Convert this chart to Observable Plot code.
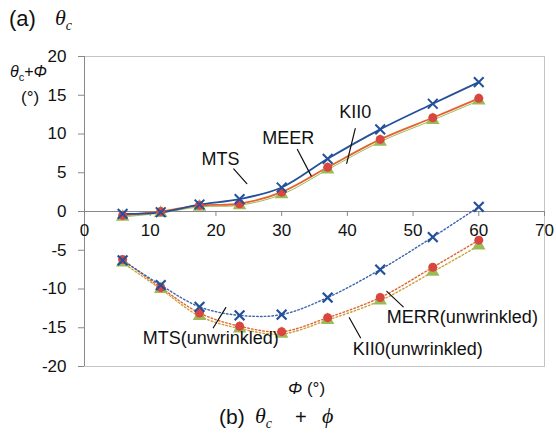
<!DOCTYPE html>
<html><head><meta charset="utf-8">
<script src="https://cdn.jsdelivr.net/npm/d3@7"></script>
<script src="https://cdn.jsdelivr.net/npm/@observablehq/plot@0.6"></script>
<style>
body{margin:0;background:#fff;font-family:"Liberation Sans",Arial,sans-serif;}
#wrap{position:relative;width:556px;height:437px;overflow:hidden;}
.t{position:absolute;white-space:nowrap;color:#111;}
.serif{font-family:"Liberation Serif","Times New Roman",serif;font-style:italic;}
</style></head>
<body><div id="wrap">
<div id="chart"></div>
<div class="t" style="left:9px;top:6px;font-size:22px;">(a)</div>
<div class="t serif" style="left:55px;top:5px;font-size:22px;">θ<sub style="font-size:14px;">c</sub></div>
<div class="t" style="left:10px;top:63px;font-size:16px;"><i>θ</i><sub style="font-size:11px;">c</sub>+<i>Φ</i></div>
<div class="t" style="left:21px;top:88px;font-size:17px;">(°)</div>
<div class="t" style="left:288px;top:379px;font-size:17px;"><i>Φ</i> (°)</div>
<div class="t" style="left:219px;top:405px;font-size:21px;">(b)</div>
<div class="t serif" style="left:255px;top:403px;font-size:22px;">θ<sub style="font-size:14px;">c</sub></div>
<div class="t" style="left:295px;top:406px;font-size:20px;">+</div>
<div class="t serif" style="left:322px;top:403px;font-size:22px;">ϕ</div>
</div>
<script>
const phi = [5.8, 11.6, 17.5, 23.6, 30, 37, 45, 53, 60];
const mts = [-0.3, -0.1, 0.9, 1.6, 3.1, 6.8, 10.6, 13.9, 16.7];
const meer = [-0.5, 0.0, 0.8, 1.0, 2.5, 5.7, 9.3, 12.1, 14.6];
const kii0 = [-0.7, -0.2, 0.6, 0.8, 2.2, 5.4, 9.0, 11.8, 14.3];
const mtsU = [-6.3, -9.5, -12.3, -13.4, -13.3, -11.1, -7.5, -3.3, 0.6];
const merrU = [-6.2, -9.8, -13.1, -14.8, -15.5, -13.7, -11.1, -7.2, -3.7];
const kii0U = [-6.6, -10.0, -13.5, -15.1, -15.8, -14.0, -11.5, -7.8, -4.4];
const xTicks = [0, 10, 20, 30, 40, 50, 60, 70];
const yTicks = [-20, -15, -10, -5, 0, 5, 10, 15, 20];

const labelText = ["MTS", "MEER", "KII0", "MTS(unwrinkled)", "MERR(unwrinkled)", "KII0(unwrinkled)"];
const labelX = [20.7, 31.0, 41.2, 19.2, 57.5, 50.7];
const labelY = [6.8, 9.4, 12.8, -16.4, -13.7, -17.8];
const arrowX1 = [22.7, 32.4, 41.2, 19.6, 48.5, 42.0];
const arrowY1 = [5.5, 8.0, 10.7, -15.0, -12.3, -16.3];
const arrowX2 = [24.7, 34.5, 39.9, 21.5, 46.0, 40.3];
const arrowY2 = [3.6, 4.6, 6.2, -12.4, -10.3, -13.7];
const arrowBend = [0, 0, -60, 60, -60, 0];

const mk = (ys) => phi.map((x, i) => ({x, y: ys[i]}));
const labels = labelText.map((t, i) => ({t, x: labelX[i], y: labelY[i]}));
const arrows = arrowX1.map((x1, i) => ({x1, y1: arrowY1[i], x2: arrowX2[i], y2: arrowY2[i], b: arrowBend[i]}));

const blue = "#24509a", red = "#d8463f", green = "#9bbb59", orange = "#e3622e";
const dash = "1.6,2.2";
const curve = "catmull-rom";

const plot = Plot.plot({
  width: 556, height: 437,
  marginTop: 56, marginBottom: 71, marginLeft: 84, marginRight: 12,
  style: {fontFamily: "Liberation Sans, Arial, sans-serif", fontSize: "17px", color: "#111", background: "#fff"},
  x: {domain: [0, 70], axis: null},
  y: {domain: [-20, 20]},
  marks: [
    Plot.frame({stroke: "#c4c4c4"}),
    Plot.axisY({ticks: yTicks, tickSize: 6, tickPadding: 12, fontSize: 17, label: null, tickFormat: d => String(d), stroke: "#888"}),
    Plot.ruleX([0], {stroke: "#888"}),
    Plot.ruleY([0], {stroke: "#888"}),
    Plot.ruleX(xTicks, {x: d => d, y1: 0, y2: 0, insetBottom: -5, stroke: "#888"}),
    Plot.text(xTicks, {x: d => d, y: 0, dy: 19, text: d => String(d), fontSize: 17}),
    // unwrinkled (dotted)
    Plot.line(mk(kii0U), {x: "x", y: "y", stroke: "#c9a33a", strokeWidth: 1.4, strokeDasharray: dash, curve}),
    Plot.line(mk(merrU), {x: "x", y: "y", stroke: orange, strokeWidth: 1.4, strokeDasharray: dash, curve}),
    Plot.line(mk(mtsU), {x: "x", y: "y", stroke: "#3d64aa", strokeWidth: 1.4, strokeDasharray: dash, curve}),
    Plot.dot(mk(kii0U), {x: "x", y: "y", symbol: "triangle", r: 5, fill: green}),
    Plot.dot(mk(merrU), {x: "x", y: "y", r: 4.5, fill: red}),
    Plot.dot(mk(mtsU), {x: "x", y: "y", symbol: "times", r: 4.5, stroke: blue, strokeWidth: 2.2}),
    // wrinkled (solid)
    Plot.line(mk(kii0), {x: "x", y: "y", stroke: green, strokeWidth: 1, curve}),
    Plot.line(mk(meer), {x: "x", y: "y", stroke: orange, strokeWidth: 1.8, curve}),
    Plot.line(mk(mts), {x: "x", y: "y", stroke: blue, strokeWidth: 1.8, curve}),
    Plot.dot(mk(kii0), {x: "x", y: "y", symbol: "triangle", r: 5, fill: green}),
    Plot.dot(mk(meer), {x: "x", y: "y", r: 4.5, fill: red}),
    Plot.dot(mk(mts), {x: "x", y: "y", symbol: "times", r: 4.5, stroke: blue, strokeWidth: 2}),
    // annotations
    Plot.arrow(arrows, {x1: "x1", y1: "y1", x2: "x2", y2: "y2", bend: d => d.b, stroke: "#111", strokeWidth: 1.2, headLength: 8}),
    Plot.text(labels, {x: "x", y: "y", text: "t", fontSize: 18, fill: "#111"})
  ]
});
document.getElementById("chart").appendChild(plot);
</script>
</body></html>
